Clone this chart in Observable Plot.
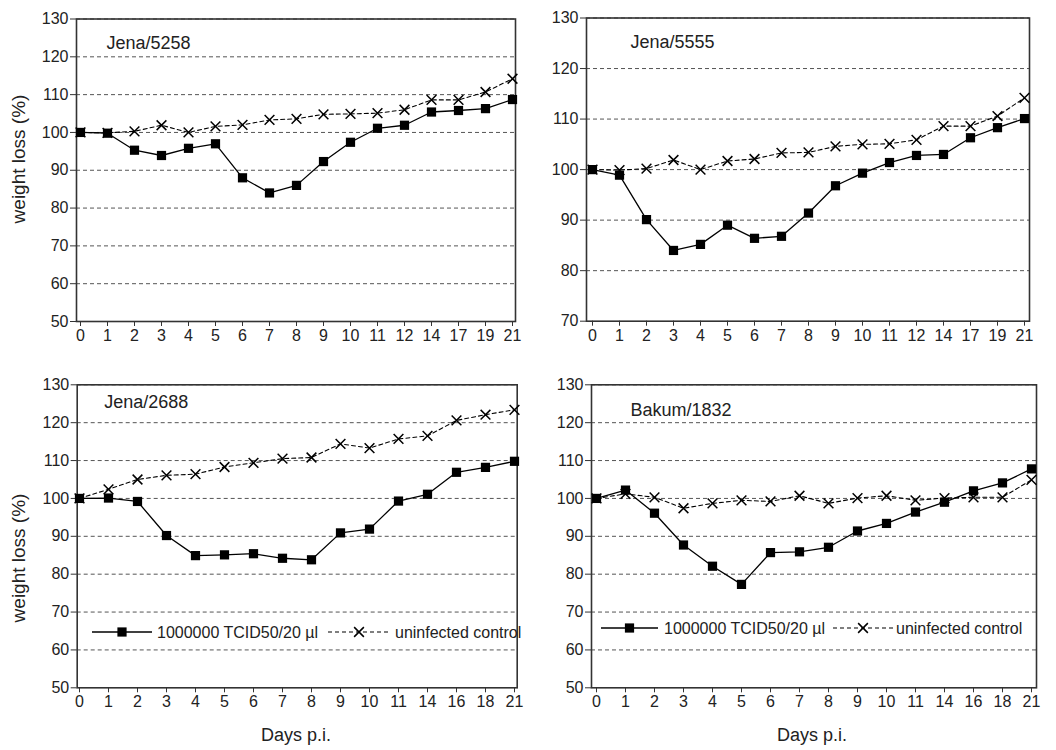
<!DOCTYPE html>
<html>
<head>
<meta charset="utf-8">
<script src="https://cdn.jsdelivr.net/npm/d3@7"></script>
<script src="https://cdn.jsdelivr.net/npm/@observablehq/plot@0.6"></script>
<style>
  html, body { margin: 0; padding: 0; background: white; }
  #root { position: relative; width: 1056px; height: 750px; overflow: hidden; font-family: "Liberation Sans", Arial, sans-serif; }
  .panel { position: absolute; }
  #overlay { position: absolute; left: 0; top: 0; pointer-events: none; }
</style>
</head>
<body>
<div id="root"></div>
<script>
// ---- data ----
const daysTop = ["0","1","2","3","4","5","6","7","8","9","10","11","12","14","17","19","21"];
const daysBottom = ["0","1","2","3","4","5","6","7","8","9","10","11","14","16","18","21"];

const jena5258Infected = [100, 99.8, 95.3, 93.9, 95.8, 97.0, 88.0, 84.0, 86.0, 92.3, 97.4, 101.1, 101.9, 105.4, 105.8, 106.3, 108.7];
const jena5258Control  = [100, 99.9, 100.3, 101.9, 100, 101.6, 102.0, 103.3, 103.6, 104.8, 104.9, 105.1, 106.0, 108.6, 108.6, 110.7, 114.2];

const jena5555Infected = [100, 98.9, 90.1, 84.0, 85.2, 89.0, 86.4, 86.8, 91.4, 96.8, 99.3, 101.4, 102.8, 103.0, 106.3, 108.3, 110.1];
const jena5555Control  = [100, 99.9, 100.2, 101.9, 100, 101.7, 102.1, 103.3, 103.4, 104.6, 105.0, 105.1, 105.9, 108.6, 108.6, 110.6, 114.2];

const jena2688Infected = [100, 100.1, 99.2, 90.2, 84.9, 85.1, 85.4, 84.2, 83.8, 90.9, 91.9, 99.3, 101.1, 106.9, 108.2, 109.8];
const jena2688Control  = [100, 102.4, 105.0, 106.1, 106.4, 108.3, 109.4, 110.5, 110.8, 114.4, 113.3, 115.7, 116.5, 120.6, 122.1, 123.4];

const bakum1832Infected = [100, 102.2, 96.1, 87.7, 82.1, 77.3, 85.7, 85.9, 87.1, 91.4, 93.4, 96.4, 99.0, 102.0, 104.1, 107.8];
const bakum1832Control  = [100, 101.2, 100.3, 97.4, 98.7, 99.5, 99.2, 100.7, 98.7, 100.1, 100.7, 99.5, 100.1, 100.3, 100.3, 104.9];

const seriesNames = ["1000000 TCID50/20 µl", "uninfected control"];
const yTitle = "weight loss (%)";
const xTitle = "Days p.i.";

// ---- drawing ----
const FONT = '"Liberation Sans", Arial, sans-serif';
const root = document.getElementById("root");

function panel(cfg) {
  const inf = cfg.days.map((d, i) => ({day: d, v: cfg.infected[i]}));
  const ctl = cfg.days.map((d, i) => ({day: d, v: cfg.control[i]}));
  const ticks = d3.range(cfg.yDomain[0], cfg.yDomain[1] + 1, 10);
  const grid = ticks.filter(t => t > cfg.yDomain[0]);
  const chart = Plot.plot({
    width: cfg.width, height: cfg.height,
    marginLeft: cfg.ml, marginRight: cfg.mr, marginTop: cfg.mt, marginBottom: cfg.mb,
    style: {fontFamily: FONT, fontSize: "16px", color: "#222", background: "white", overflow: "visible"},
    x: {type: "point", domain: cfg.days, padding: 0},
    y: {domain: cfg.yDomain},
    marks: [
      Plot.ruleY(grid, {stroke: "#555", strokeWidth: 1, strokeDasharray: "4,3"}),
      Plot.frame({stroke: "#333", strokeWidth: 1.6}),
      Plot.axisX({tickSize: 5, tickPadding: 3, label: null, fontSize: 16, stroke: "#333"}),
      Plot.axisY({ticks, tickSize: 6, tickPadding: 2, label: null, fontSize: 16, stroke: "#333"}),
      Plot.line(ctl, {x: "day", y: "v", stroke: "black", strokeWidth: 1.1, strokeDasharray: "4,3"}),
      Plot.dot(ctl, {x: "day", y: "v", symbol: "times", r: 4.5, stroke: "black", strokeWidth: 1.5}),
      Plot.line(inf, {x: "day", y: "v", stroke: "black", strokeWidth: 1.3}),
      Plot.dot(inf, {x: "day", y: "v", symbol: "square", r: 5.2, fill: "black", stroke: "none"}),
      Plot.text([cfg.label], {frameAnchor: "top-left", lineAnchor: "middle", textAnchor: "start",
        dx: cfg.ldx, dy: cfg.ldy, fontSize: 18, fill: "#222"})
    ]
  });
  const div = document.createElement("div");
  div.className = "panel";
  div.style.left = cfg.left + "px";
  div.style.top = cfg.top + "px";
  div.appendChild(chart);
  root.appendChild(div);
}

panel({days: daysTop, infected: jena5258Infected, control: jena5258Control, yDomain: [50, 130], label: "Jena/5258",
  left: 0, top: 0, width: 528, height: 345, ml: 76, mr: 13, mt: 18.5, mb: 24, ldx: 30, ldy: 24});
panel({days: daysTop, infected: jena5555Infected, control: jena5555Control, yDomain: [70, 130], label: "Jena/5555",
  left: 528, top: 0, width: 528, height: 345, ml: 58, mr: 27, mt: 17.5, mb: 24.3, ldx: 44, ldy: 24.5});
panel({days: daysBottom, infected: jena2688Infected, control: jena2688Control, yDomain: [50, 130], label: "Jena/2688",
  left: 0, top: 360, width: 528, height: 390, ml: 76.7, mr: 11.3, mt: 24.3, mb: 62.7, ldx: 27, ldy: 17});
panel({days: daysBottom, infected: bakum1832Infected, control: bakum1832Control, yDomain: [50, 130], label: "Bakum/1832",
  left: 528, top: 360, width: 528, height: 390, ml: 63, mr: 20, mt: 24.3, mb: 62.7, ldx: 39, ldy: 25});

// overlay: axis titles and legends
const svg = d3.select(root).append("svg").attr("id", "overlay")
  .attr("width", 1056).attr("height", 750)
  .style("font-family", FONT).style("fill", "#222");

[[18, 159], [18, 558]].forEach(([x, y]) => {
  svg.append("text").attr("transform", `translate(${x},${y}) rotate(-90)`)
    .attr("text-anchor", "middle").attr("dy", "0.35em").attr("font-size", 19).text(yTitle);
});
[[296, 735], [812, 735]].forEach(([x, y]) => {
  svg.append("text").attr("x", x).attr("y", y).attr("text-anchor", "middle").attr("dy", "0.35em")
    .attr("font-size", 18).text(xTitle);
});

const sq = d3.symbol(d3.symbolSquare, Math.PI * 5.2 * 5.2)();
const tx = d3.symbol(d3.symbolTimes, Math.PI * 4.5 * 4.5)();
function legend(y, a) {
  const g = svg.append("g");
  g.append("line").attr("x1", a[0]).attr("x2", a[1]).attr("y1", y).attr("y2", y).attr("stroke", "black").attr("stroke-width", 1.3);
  g.append("path").attr("d", sq).attr("transform", `translate(${(a[0] + a[1]) / 2},${y})`).attr("fill", "black");
  g.append("text").attr("x", a[2]).attr("y", y).attr("dy", "0.35em").attr("font-size", 16).text(seriesNames[0]);
  g.append("line").attr("x1", a[3]).attr("x2", a[4]).attr("y1", y).attr("y2", y).attr("stroke", "black")
    .attr("stroke-width", 1.1).attr("stroke-dasharray", "4,3");
  g.append("path").attr("d", tx).attr("transform", `translate(${(a[3] + a[4]) / 2},${y})`).attr("stroke", "black")
    .attr("stroke-width", 1.5).attr("fill", "none");
  g.append("text").attr("x", a[5]).attr("y", y).attr("dy", "0.35em").attr("font-size", 16).text(seriesNames[1]);
}
legend(632, [92, 152, 157, 328, 390, 395]);
legend(628, [601, 658, 664, 833, 893, 896]);
</script>
</body>
</html>
